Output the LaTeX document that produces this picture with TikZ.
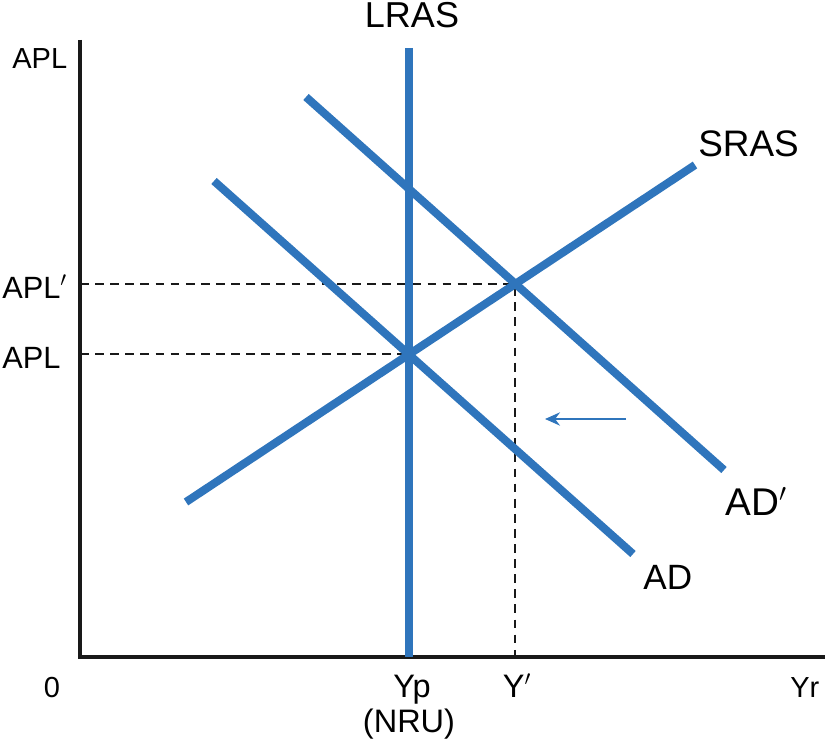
\documentclass[tikz,border=0pt]{standalone}
\usepackage{fontspec}
\setmainfont{Liberation Sans}
\usepackage{tikz}
\usetikzlibrary{arrows.meta, positioning}
\definecolor{curveblue}{RGB}{47,117,188}

\begin{document}
\begin{tikzpicture}[x=0.02cm, y=-0.02cm,
	curve/.style={draw=curveblue, line width=4.6pt},
	axis/.style={draw=black!90, line width=2.3pt},
	guide/.style={draw=black!90, line width=1.7pt, dash pattern=on 5pt off 3.6pt},
	biglab/.style={inner sep=0pt, font=\fontsize{20.5}{24}\selectfont},
	midlab/.style={inner sep=0pt, font=\fontsize{18.5}{22}\selectfont},
	smalllab/.style={inner sep=0pt, font=\fontsize{16.5}{20}\selectfont}]
	
	\useasboundingbox (0,0) rectangle (825,743);
	
	%// axes
	\coordinate (origin) at (80,657);
	\draw[axis] (80,40) -- (origin) -- (825,657);
	
	%// end points of the curves
	\coordinate (lras top) at (409,48);
	\coordinate (lras bot) at (409,657);
	\coordinate (sras a) at (186,502);
	\coordinate (sras b) at (695,165);
	\coordinate (ad a) at (214,181);
	\coordinate (ad b) at (633,554);
	\coordinate (adp a) at (306,97);
	\coordinate (adp b) at (724,470);
	
	%// equilibria
	\coordinate (eq) at (409,354);
	\coordinate (eqp) at (515,284);
	
	%// guides
	\draw[guide] (80,284) -- (eqp) -- (515,657);
	\draw[guide] (80,354) -- (eq);
	
	\draw[curve] (lras top) -- (lras bot);
	\draw[curve] (sras a) -- (sras b);
	\draw[curve] (ad a) -- (ad b);
	\draw[curve] (adp a) -- (adp b);
	
	%// shift arrow
	\coordinate (shift from) at (626,419);
	\coordinate (shift to) at (545,419);
	\draw[curveblue, line width=1.5pt, -{Stealth[length=8.5pt, width=7.5pt]}] (shift from) -- (shift to);
	
	%// labels
	\node [biglab, anchor=base] (lras) at (412,28) {LRAS};
	\node [biglab, anchor=base west, font=\fontsize{21}{25}\selectfont] (sras) at (698,157) {SRAS};
	\node [biglab, anchor=base west, font=\fontsize{20}{24}\selectfont] (ad) at (643,589) {AD};
	\node [biglab, anchor=base west, font=\fontsize{22}{26}\selectfont] (adp) at (725,515) {AD$'$};
	
	\node [smalllab, anchor=base west] (apl top) at (12,69) {APL};
	\node [midlab, anchor=base west, font=\fontsize{17.5}{21}\selectfont] (aplp) at (2,298) {APL$'$};
	\node [midlab, anchor=base west, font=\fontsize{17.5}{21}\selectfont] (apl) at (2,368) {APL};
	
	\node [smalllab, anchor=base] (zero) at (52,697) {0};
	\node [midlab, anchor=base] (yp) at (412,697) {Yp};
	\node [midlab, anchor=base] (nru) at (409,732) {(NRU)};
	\node [midlab, anchor=base] (yprime) at (517,697) {Y$'$};
	\node [smalllab, anchor=base west] (yr) at (790,697) {Yr};
	
\end{tikzpicture}
\end{document}
